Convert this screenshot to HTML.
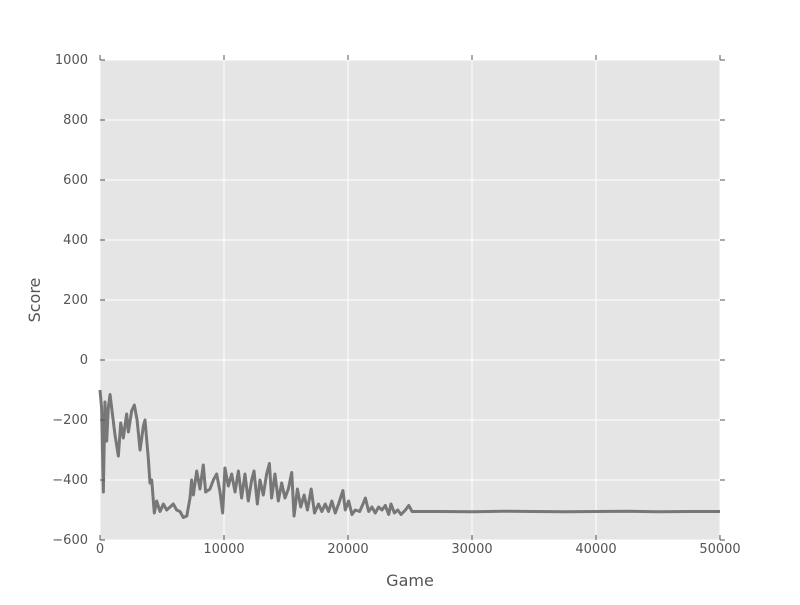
<!DOCTYPE html>
<html><head><meta charset="utf-8"><style>
body{margin:0;background:#fff;font-family:"Liberation Sans","DejaVu Sans",sans-serif}
svg text{font-family:"DejaVu Sans","Liberation Sans",sans-serif;fill:#555}
</style></head><body>
<svg id="c" width="800" height="600">
<rect x="100" y="60" width="620" height="480" fill="#e5e5e5"/>
<g id="grid"></g><g id="series"></g><g id="axes"></g>
<text x="410" y="586" font-size="16" text-anchor="middle">Game</text>
<text x="40" y="300" font-size="16" text-anchor="middle" transform="rotate(-90 40 300)">Score</text>
</svg>
<script>
const xTicks=[0,10000,20000,30000,40000,50000];
const yTicks=[-600,-400,-200,0,200,400,600,800,1000];
const games=[0,130,270,400,540,670,810,1000,1210,1480,1670,1880,2150,2290,2550,2770,2990,3230,3500,3630,3900,4030,4170,4380,4570,4840,5110,5380,5650,5910,6180,6450,6720,7000,7260,7390,7530,7800,8060,8330,8520,8870,9140,9410,9680,9890,10080,10350,10620,10890,11160,11420,11690,11960,12230,12420,12690,12900,13170,13440,13660,13840,14110,14380,14650,14920,15190,15460,15650,15920,16190,16460,16730,17030,17300,17620,17890,18160,18430,18700,18970,19240,19590,19780,20050,20320,20590,20940,21210,21400,21670,21930,22200,22470,22740,23010,23280,23470,23740,24010,24280,24630,24900,25170,27500,30000,32500,35000,37500,40000,42500,45000,47500,50000];
const scores=[-100,-160,-440,-140,-270,-160,-115,-180,-250,-320,-210,-260,-180,-240,-170,-150,-200,-300,-220,-200,-330,-410,-400,-510,-470,-505,-480,-500,-490,-480,-500,-505,-525,-520,-460,-400,-450,-370,-430,-350,-440,-430,-400,-380,-440,-510,-360,-420,-380,-440,-370,-460,-380,-470,-400,-370,-480,-400,-450,-380,-345,-460,-380,-470,-410,-460,-430,-375,-520,-430,-490,-450,-500,-430,-510,-480,-505,-480,-505,-470,-510,-480,-435,-500,-470,-515,-500,-505,-480,-460,-505,-490,-510,-490,-500,-485,-515,-480,-510,-500,-515,-500,-485,-505,-505,-506,-504,-505,-506,-505,-504,-506,-505,-505];
const xs=v=>100+v/50000*620, ys=v=>60+(1000-v)*0.3;
const ns="http://www.w3.org/2000/svg";
const grid=document.getElementById('grid'),axes=document.getElementById('axes'),ser=document.getElementById('series');
function mk(t,a,p){const e=document.createElementNS(ns,t);for(const k in a)e.setAttribute(k,a[k]);p.appendChild(e);return e;}
xTicks.forEach(v=>{const x=xs(v);
 const g=mk('line',{x1:x,x2:x,y1:60,y2:540,stroke:'#fff','stroke-width':1},grid);
 
 
 mk('line',{x1:x,x2:x,y1:540,y2:535,stroke:'#555'},axes);
 mk('line',{x1:x,x2:x,y1:60,y2:55,stroke:'#555'},axes);
 const t=mk('text',{x:x,y:553,'font-size':13,'text-anchor':'middle'},axes);t.textContent=v;
 
 });
yTicks.forEach(v=>{const y=ys(v);
 const g=mk('line',{x1:100,x2:720,y1:y,y2:y,stroke:'#fff','stroke-width':1},grid);
 
 
 mk('line',{x1:100,x2:105,y1:y,y2:y,stroke:'#555'},axes);
 mk('line',{x1:720,x2:725,y1:y,y2:y,stroke:'#555'},axes);
 const t=mk('text',{x:88,y:y+4,'font-size':13,'text-anchor':'end'},axes);t.textContent=v<0?'\u2212'+(-v):v;
 
 });
const pts=games.map((g,i)=>xs(g)+','+ys(scores[i]));
const pl=mk('polyline',{points:pts.join(' '),fill:'none',stroke:'#777','stroke-width':3,'stroke-linejoin':'round'},ser);


</script>
</body></html>
